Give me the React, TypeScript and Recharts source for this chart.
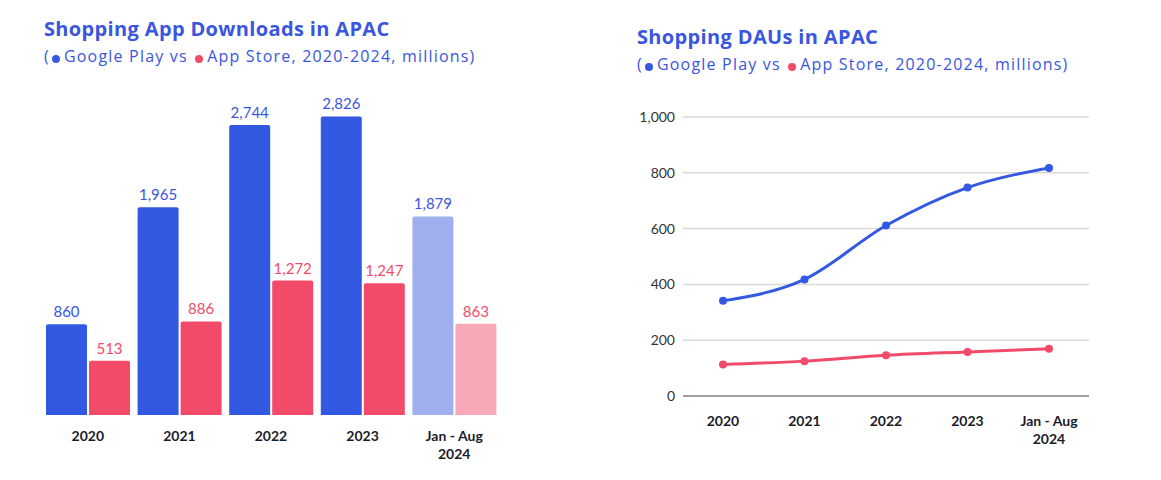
import React from "react";
import {
  BarChart,
  Bar,
  XAxis,
  YAxis,
  LabelList,
  Cell,
  LineChart,
  Line,
  CartesianGrid,
} from "recharts";

const years = ["2020", "2021", "2022", "2023", "Jan - Aug\n2024"];
const downloadsGooglePlay = [860, 1965, 2744, 2826, 1879];
const downloadsAppStore = [513, 886, 1272, 1247, 863];
const dauGooglePlay = [341, 418, 611, 747, 817];
const dauAppStore = [113, 125, 146, 158, 169];
const dauTicks = [0, 200, 400, 600, 800, 1000];

const FONT = "Lato, 'Open Sans', sans-serif";
const HEAD_FONT = "'Open Sans', Lato, sans-serif";
const BLUE = "#3359e2";
const RED = "#f24b6a";
const BLUE_LIGHT = "#a0aff0";
const RED_LIGHT = "#f7a9b8";
const TITLE = "#3a56e0";

const downloadsData = years.map((year, i) => ({
  year,
  gp: downloadsGooglePlay[i],
  as: downloadsAppStore[i],
}));

const dauData = years.map((year, i) => ({
  year,
  gp: dauGooglePlay[i],
  as: dauAppStore[i],
}));

interface TickProps {
  x?: number;
  y?: number;
  payload?: { value: string };
  dy0?: number;
}

const CategoryTick = ({ x = 0, y = 0, payload, dy0 = 18 }: TickProps) => {
  const lines = String(payload?.value ?? "").split("\n");
  return (
    <text x={x} y={y + dy0} textAnchor="middle" fontSize={14} fontWeight={700} fill="#1c1c2b">
      {lines.map((l, i) => (
        <tspan key={i} x={x} dy={i === 0 ? 0 : 17.5}>
          {l}
        </tspan>
      ))}
    </text>
  );
};

const Dot = ({ color }: { color: string }) => (
  <span
    style={{
      display: "inline-block",
      width: 8,
      height: 8,
      borderRadius: "50%",
      background: color,
      marginRight: 4,
      marginLeft: 2,
      verticalAlign: "-1px",
    }}
  />
);

const Heading = ({ title, left, top }: { title: string; left: number; top: number }) => (
  <div style={{ position: "absolute", left, top, color: TITLE, whiteSpace: "nowrap", fontFamily: HEAD_FONT }}>
    <div style={{ fontSize: 20, fontWeight: 700, lineHeight: "26px", letterSpacing: 0.35 }}>{title}</div>
    <div style={{ fontSize: 16, lineHeight: "22px", marginTop: 3, letterSpacing: 1.2 }}>
      (<Dot color={BLUE} />Google Play vs <Dot color={RED} />App Store, 2020-2024, millions)
    </div>
  </div>
);

const fmt = (v: number) => Number(v).toLocaleString("en-US");

export default function App() {
  return (
    <div
      style={{
        position: "absolute",
        left: 0,
        top: 0,
        width: 1161,
        height: 480,
        background: "#fff",
        fontFamily: FONT,
      }}
    >
      <Heading title="Shopping App Downloads in APAC" left={44} top={16} />
      <Heading title="Shopping DAUs in APAC" left={637} top={24} />

      <div style={{ position: "absolute", left: 0, top: 0 }}>
        <BarChart
          width={540}
          height={480}
          data={downloadsData}
          margin={{ top: 98, right: 40, bottom: 15, left: 42 }}
          barCategoryGap={4}
          barGap={2}
        >
          <XAxis
            dataKey="year"
            axisLine={false}
            tickLine={false}
            interval={0}
            height={50}
            tick={<CategoryTick dy0={18} />}
          />
          <YAxis hide domain={[0, 3000]} />
          <Bar dataKey="gp" fill={BLUE} radius={[2, 2, 0, 0]} isAnimationActive={false}>
            {downloadsData.map((_, i) => (
              <Cell key={i} fill={i === years.length - 1 ? BLUE_LIGHT : BLUE} />
            ))}
            <LabelList dataKey="gp" position="top" offset={7} fill={TITLE} fontSize={15} formatter={fmt} />
          </Bar>
          <Bar dataKey="as" fill={RED} radius={[2, 2, 0, 0]} isAnimationActive={false}>
            {downloadsData.map((_, i) => (
              <Cell key={i} fill={i === years.length - 1 ? RED_LIGHT : RED} />
            ))}
            <LabelList dataKey="as" position="top" offset={7} fill={RED} fontSize={15} formatter={fmt} />
          </Bar>
        </BarChart>
      </div>

      <div style={{ position: "absolute", left: 580, top: 0 }}>
        <LineChart
          width={560}
          height={480}
          data={dauData}
          margin={{ top: 117, right: 51, bottom: 34, left: 43 }}
        >
          <CartesianGrid vertical={false} stroke="#d9d9d9" strokeWidth={1.5} />
          <XAxis
            dataKey="year"
            axisLine={{ stroke: "#8a8a8a", strokeWidth: 1.5 }}
            tickLine={false}
            interval={0}
            height={50}
            padding={{ left: 40, right: 40 }}
            tick={<CategoryTick dy0={22} />}
          />
          <YAxis
            width={60}
            domain={[0, 1000]}
            ticks={dauTicks}
            axisLine={false}
            tickLine={false}
            tickFormatter={fmt}
            tick={{ fill: "#333", fontSize: 14 }}
          />
          <Line
            type="monotone"
            dataKey="gp"
            stroke={BLUE}
            strokeWidth={3}
            dot={{ r: 4, fill: BLUE, stroke: BLUE, strokeWidth: 0 }}
            isAnimationActive={false}
          />
          <Line
            type="monotone"
            dataKey="as"
            stroke={RED}
            strokeWidth={3}
            dot={{ r: 4, fill: RED, stroke: RED, strokeWidth: 0 }}
            isAnimationActive={false}
          />
        </LineChart>
      </div>
    </div>
  );
}
